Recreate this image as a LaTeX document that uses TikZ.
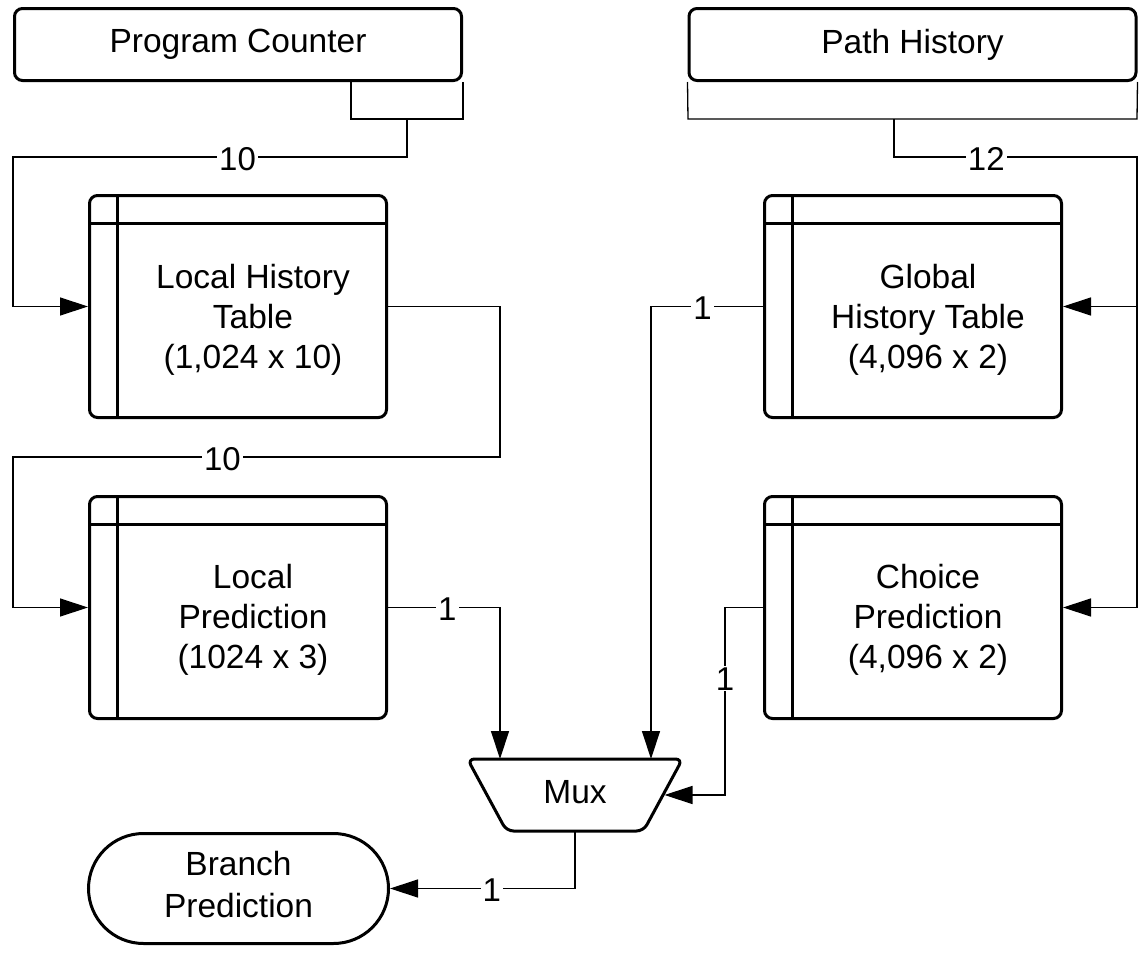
\documentclass[tikz,border=0pt]{standalone}
\usepackage{fontspec}
\setmainfont{Liberation Sans}
\usetikzlibrary{arrows.meta}
\tikzset{
  box/.style={draw, line width=3pt, rounded corners=8pt, minimum width=447pt, minimum height=72pt, inner sep=0pt, font=\fontsize{33.5}{40}\selectfont},
  tbl/.style={draw, line width=3pt, rounded corners=8pt, minimum width=297pt, minimum height=222pt, inner sep=0pt},
  tbltext/.style={align=center, inner sep=0pt, font=\fontsize{33.5}{40}\selectfont},
  conn/.style={line width=1.3pt},
  arr/.style={conn, -{Triangle[length=28pt,width=18pt]}},
  lbl/.style={fill=white, inner xsep=2pt, inner ysep=1pt, yshift=-2pt, font=\fontsize{33}{36}\selectfont},
  term/.style={draw, line width=3pt, rounded corners=55pt, minimum width=300pt, minimum height=110pt, inner sep=0pt},
}
\newcommand{\tblines}[1]{%
  \draw[line width=3pt] ([yshift=-29pt]#1.north west) -- ([yshift=-29pt]#1.north east);
  \draw[line width=3pt] ([xshift=29pt]#1.north west) -- ([xshift=29pt]#1.south west);
}
\begin{document}
\begin{tikzpicture}[x=1pt,y=-1pt]
\useasboundingbox (0,0) rectangle (1144,953);

% top registers
\node[box] (pc) at (238,44.5) {Program Counter};
\node[box] (ph) at (912.5,44.5) {Path History};

% tables
\node[tbl] (lht) at (238,306.5) {};
\tblines{lht}
\node[tbltext] (lhtT) at (253,320) {Local History\\Table\\(1,024 x 10)};

\node[tbl] (lp) at (238,607.5) {};
\tblines{lp}
\node[tbltext] (lpT) at (253,620) {Local\\Prediction\\(1024 x 3)};

\node[tbl] (ght) at (913,306.5) {};
\tblines{ght}
\node[tbltext] (ghtT) at (928,320) {Global\\History Table\\(4,096 x 2)};

\node[tbl] (cp) at (913,607.5) {};
\tblines{cp}
\node[tbltext] (cpT) at (928,620) {Choice\\Prediction\\(4,096 x 2)};

% mux
\node[minimum width=215pt, minimum height=72pt, inner sep=0pt, outer sep=0pt, font=\fontsize{33.5}{40}\selectfont] (mux) at (575,795) {\raisebox{6pt}{Mux}};
\draw[line width=3pt, rounded corners=7pt] (mux.north west) -- (mux.north east) -- ([xshift=-39pt]mux.south east) -- ([xshift=39pt]mux.south west) -- cycle;

% branch prediction
\node[term] (bp) at (238.5,888.5) {};
\node[tbltext, font=\fontsize{33.5}{42}\selectfont] (bpT) at (238.5,885) {Branch\\Prediction};

% brackets
\coordinate (pcbr) at (407,119);
\coordinate (phbr) at (894,119);
\draw[conn] (pc.south east) -- (463,119) -- (351,119) -- (351,82);
\draw[conn] (ph.south west) -- (688,119) -- (1137,119) -- (ph.south east);

% connectors
\draw[arr] (pcbr) -- (407,157) -- node[lbl,pos=0.43]{10} (13,157) -- (13,306.5) -- (lht.west);
\draw[arr] (phbr) -- (894,157) -- node[lbl,pos=0.38]{12} (1137,157) -- (1137,306.5) -- (ght.east);
\coordinate (phsplit) at (1137,306.5);
\draw[arr] (phsplit) -- (1137,607.5) -- (cp.east);

\draw[arr] (lht.east) -- (500,306.5) -- (500,457) -- node[lbl,pos=0.57]{10} (13,457) -- (13,607.5) -- (lp.west);

\draw[arr] (lp.east) -- node[lbl,pos=0.53]{1} (500,607.5) -- (500,0 |- mux.north);
\draw[arr] (ght.west) -- node[lbl,pos=0.54]{1} (651,306.5) -- (651,0 |- mux.north);
\draw[arr] (cp.west) -- (725,607.5) -- node[lbl,pos=0.38,yshift=2pt]{1} (725,795) -- ([xshift=-18pt]mux.east);
\draw[arr] (mux.south) -- (575,888.5) -- node[lbl,pos=0.45]{1} (bp.east);
\end{tikzpicture}
\end{document}
